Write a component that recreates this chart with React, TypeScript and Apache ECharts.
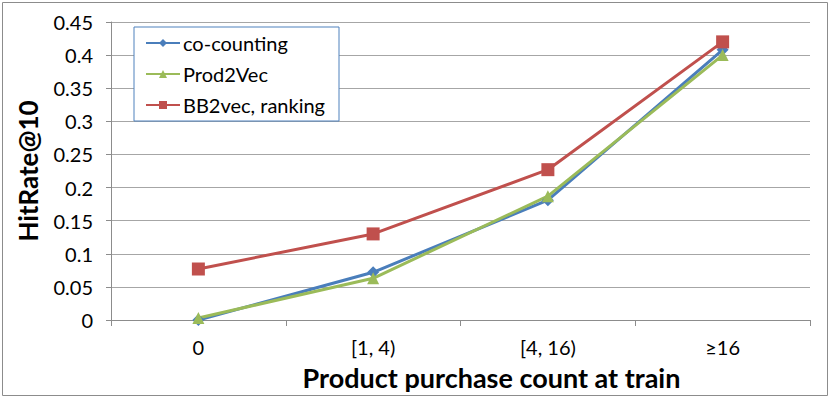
import React, { useEffect, useRef } from "react";
import * as echarts from "echarts";

const categories = ["0", "[1, 4)", "[4, 16)", "≥16"];
const coCounting = [0.0, 0.072, 0.181, 0.408];
const prod2Vec = [0.003, 0.063, 0.187, 0.4];
const bb2vec = [0.077, 0.13, 0.227, 0.42];

const FONT = "Lato";

export default function App() {
  const ref = useRef<HTMLDivElement>(null);
  useEffect(() => {
    const chart = echarts.init(ref.current!, null, { renderer: "svg" });
    chart.setOption({
      animation: false,
      backgroundColor: "#ffffff",
      textStyle: { fontFamily: FONT },
      graphic: [
        {
          type: "rect",
          shape: { x: 2.5, y: 2.5, width: 825, height: 393 },
          style: { fill: "none", stroke: "#8c8c8c", lineWidth: 1 },
          silent: true,
        },
      ],
      grid: { left: 111, right: 20, top: 22, bottom: 78, containLabel: false },
      legend: {
        orient: "vertical",
        left: 134,
        top: 27,
        padding: [6, 14, 6, 11],
        itemGap: 11,
        itemWidth: 34,
        itemHeight: 10,
        borderColor: "#4f81bd",
        borderWidth: 1,
        backgroundColor: "#ffffff",
        textStyle: { fontFamily: FONT, fontSize: 20, color: "#000", padding: [0, 0, 0, -2] },
        data: ["co-counting", "Prod2Vec", "BB2vec, ranking"],
      },
      xAxis: {
        type: "category",
        data: categories,
        boundaryGap: true,
        axisLine: { lineStyle: { color: "#8c8c8c", width: 1 } },
        axisTick: { show: true, length: 6, lineStyle: { color: "#8c8c8c" } },
        axisLabel: { fontFamily: FONT, fontSize: 20, color: "#000", margin: 17 },
        name: "Product purchase count at train",
        nameLocation: "middle",
        nameGap: 44,
        nameTextStyle: {
          fontFamily: FONT,
          fontSize: 27,
          fontWeight: "bold",
          color: "#000",
          padding: [0, 0, 0, 62],
        },
      },
      yAxis: {
        type: "value",
        min: 0,
        max: 0.45,
        interval: 0.05,
        axisLine: { show: true, lineStyle: { color: "#8c8c8c" } },
        axisTick: { show: true, length: 5, lineStyle: { color: "#8c8c8c" } },
        splitLine: { lineStyle: { color: "#a6a6a6", width: 1 } },
        axisLabel: { fontFamily: FONT, fontSize: 20, color: "#000", margin: 18 },
        name: "HitRate@10",
        nameLocation: "middle",
        nameGap: 70,
        nameTextStyle: { fontFamily: FONT, fontSize: 26, fontWeight: "bold", color: "#000" },
      },
      series: [
        {
          name: "co-counting",
          type: "line",
          data: coCounting,
          symbol: "diamond",
          symbolSize: 12,
          color: "#4a7ebb",
          lineStyle: { width: 3 },
        },
        {
          name: "Prod2Vec",
          type: "line",
          data: prod2Vec,
          symbol: "triangle",
          symbolSize: 12,
          color: "#9bbb59",
          lineStyle: { width: 3 },
        },
        {
          name: "BB2vec, ranking",
          type: "line",
          data: bb2vec,
          symbol: "rect",
          symbolSize: 13,
          color: "#c0504d",
          lineStyle: { width: 3 },
        },
      ],
    });
    return () => chart.dispose();
  }, []);
  return <div ref={ref} style={{ width: 830, height: 398, position: "absolute", left: 0, top: 0 }} />;
}
